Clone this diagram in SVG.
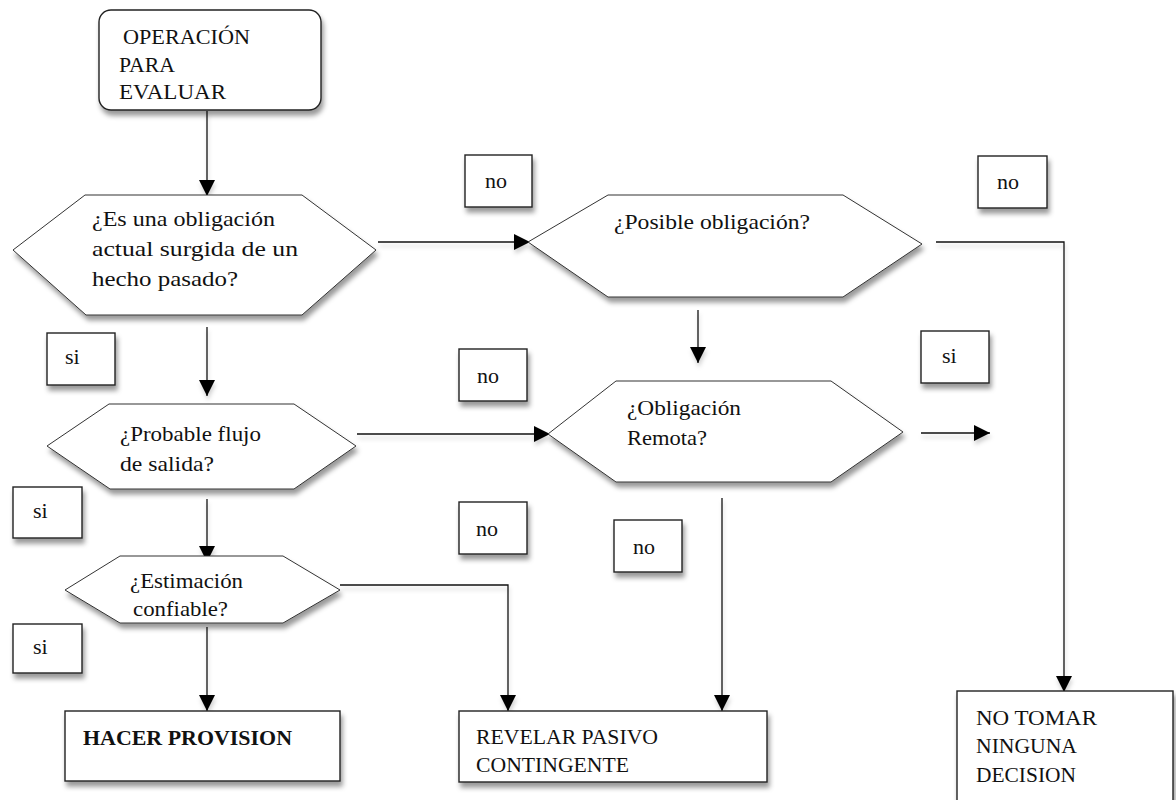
<svg xmlns="http://www.w3.org/2000/svg" width="1176" height="800" viewBox="0 0 1176 800">
  <defs>
    <filter id="sh" x="-20%" y="-20%" width="140%" height="160%">
      <feDropShadow dx="2" dy="5" stdDeviation="2.8" flood-color="#000" flood-opacity="0.4"/>
    </filter>
    <filter id="lsh" x="-10%" y="-50%" width="120%" height="300%">
      <feDropShadow dx="1" dy="4" stdDeviation="2" flood-color="#000" flood-opacity="0.18"/>
    </filter>
    <marker id="arr" markerUnits="userSpaceOnUse" markerWidth="17" markerHeight="17" refX="16" refY="8" orient="auto">
      <path d="M0,0 L16,8 L0,16 z" fill="#000"/>
    </marker>
  </defs>
  <style>
    .box { fill: #fff; stroke: #222; stroke-width: 1.4; filter: url(#sh); }
    .hex { fill: #fff; stroke: #333; stroke-width: 1; filter: url(#sh); }
    .t { font-family: "Liberation Serif", "Times New Roman", serif; font-size: 22px; fill: #111; }
    .b { font-weight: bold; }
    .c { fill: none; stroke: #111; stroke-width: 1.3; }
  </style>
  <rect width="1176" height="800" fill="#fff"/>

  <g id="connectors" filter="url(#lsh)">
    <line class="c" x1="207" y1="111" x2="207" y2="196" marker-end="url(#arr)"/>
    <line class="c" x1="207" y1="327" x2="207" y2="396" marker-end="url(#arr)"/>
    <line class="c" x1="207" y1="499" x2="207" y2="562" marker-end="url(#arr)"/>
    <line class="c" x1="207" y1="627" x2="207" y2="711" marker-end="url(#arr)"/>
    <line class="c" x1="378" y1="242" x2="530" y2="242" marker-end="url(#arr)"/>
    <line class="c" x1="698" y1="310" x2="698" y2="363" marker-end="url(#arr)"/>
    <polyline class="c" points="936,242 1064,242 1064,692" marker-end="url(#arr)"/>
    <line class="c" x1="357" y1="434" x2="550" y2="434" marker-end="url(#arr)"/>
    <line class="c" x1="921" y1="433" x2="990" y2="433" marker-end="url(#arr)"/>
    <polyline class="c" points="340,585 508,585 508,711" marker-end="url(#arr)"/>
    <line class="c" x1="722" y1="498" x2="722" y2="711" marker-end="url(#arr)"/>
  </g>

  <g id="start">
    <rect class="box" x="99" y="10" width="222" height="100" rx="12"/>
    <text class="t" x="123" y="44" textLength="127" lengthAdjust="spacingAndGlyphs">OPERACIÓN</text>
    <text class="t" x="119" y="72" textLength="56" lengthAdjust="spacingAndGlyphs">PARA</text>
    <text class="t" x="119" y="99" textLength="107" lengthAdjust="spacingAndGlyphs">EVALUAR</text>
  </g>

  <g id="q-obligacion-actual">
    <polygon class="hex" points="13,250 85,195 302,195 376,250 302,315 86,315"/>
    <text class="t" x="92" y="226" textLength="183" lengthAdjust="spacingAndGlyphs">¿Es una obligación</text>
    <text class="t" x="92" y="256" textLength="206" lengthAdjust="spacingAndGlyphs">actual surgida de un</text>
    <text class="t" x="92" y="286" textLength="146" lengthAdjust="spacingAndGlyphs">hecho pasado?</text>
  </g>

  <g id="q-posible">
    <polygon class="hex" points="528,242 608,195 843,195 922,244 843,297 608,297"/>
    <text class="t" x="614" y="229" textLength="196" lengthAdjust="spacingAndGlyphs">¿Posible obligación?</text>
  </g>

  <g id="q-probable">
    <polygon class="hex" points="47,446 109,404 294,404 356,446 294,489 110,489"/>
    <text class="t" x="120" y="441" textLength="141" lengthAdjust="spacingAndGlyphs">¿Probable flujo</text>
    <text class="t" x="120" y="471" textLength="94" lengthAdjust="spacingAndGlyphs">de salida?</text>
  </g>

  <g id="q-remota">
    <polygon class="hex" points="548,434 616,381 831,381 903,432 831,482 616,482"/>
    <text class="t" x="627" y="415" textLength="114" lengthAdjust="spacingAndGlyphs">¿Obligación</text>
    <text class="t" x="627" y="445" textLength="80" lengthAdjust="spacingAndGlyphs">Remota?</text>
  </g>

  <g id="q-estimacion">
    <polygon class="hex" points="65,590 120,556 283,556 340,590 283,623 120,623"/>
    <text class="t" x="130" y="588" textLength="113" lengthAdjust="spacingAndGlyphs">¿Estimación</text>
    <text class="t" x="133" y="616" textLength="95" lengthAdjust="spacingAndGlyphs">confiable?</text>
  </g>

  <g id="hacer-provision">
    <rect class="box" x="65" y="711" width="275" height="70"/>
    <text class="t b" x="83" y="745" textLength="209" lengthAdjust="spacingAndGlyphs">HACER PROVISION</text>
  </g>

  <g id="revelar-pasivo">
    <rect class="box" x="459" y="711" width="308" height="71"/>
    <text class="t" x="476" y="744" textLength="182" lengthAdjust="spacingAndGlyphs">REVELAR PASIVO</text>
    <text class="t" x="476" y="772" textLength="153" lengthAdjust="spacingAndGlyphs">CONTINGENTE</text>
  </g>

  <g id="no-tomar">
    <rect class="box" x="957" y="691" width="216" height="130"/>
    <text class="t" x="976" y="725" textLength="121" lengthAdjust="spacingAndGlyphs">NO TOMAR</text>
    <text class="t" x="976" y="753" textLength="101" lengthAdjust="spacingAndGlyphs">NINGUNA</text>
    <text class="t" x="976" y="782" textLength="100" lengthAdjust="spacingAndGlyphs">DECISION</text>
  </g>

  <g id="label-no-1">
    <rect class="box" x="465" y="155" width="67" height="52"/>
    <text class="t" x="485" y="188">no</text>
  </g>
  <g id="label-no-2">
    <rect class="box" x="978" y="156" width="69" height="52"/>
    <text class="t" x="997" y="189">no</text>
  </g>
  <g id="label-si-1">
    <rect class="box" x="47" y="333" width="68" height="52"/>
    <text class="t" x="65" y="364">si</text>
  </g>
  <g id="label-no-3">
    <rect class="box" x="459" y="349" width="68" height="52"/>
    <text class="t" x="477" y="383">no</text>
  </g>
  <g id="label-si-2">
    <rect class="box" x="921" y="331" width="68" height="52"/>
    <text class="t" x="942" y="363">si</text>
  </g>
  <g id="label-si-3">
    <rect class="box" x="13" y="487" width="69" height="51"/>
    <text class="t" x="33" y="518">si</text>
  </g>
  <g id="label-no-4">
    <rect class="box" x="459" y="502" width="68" height="52"/>
    <text class="t" x="476" y="536">no</text>
  </g>
  <g id="label-no-5">
    <rect class="box" x="614" y="520" width="68" height="52"/>
    <text class="t" x="633" y="554">no</text>
  </g>
  <g id="label-si-4">
    <rect class="box" x="13" y="624" width="69" height="49"/>
    <text class="t" x="33" y="654">si</text>
  </g>
</svg>
